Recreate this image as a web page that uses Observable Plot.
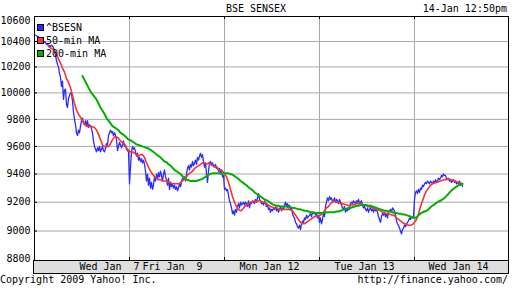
<!DOCTYPE html>
<html>
<head>
<meta charset="utf-8">
<script src="https://cdn.jsdelivr.net/npm/d3@7"></script>
<script src="https://cdn.jsdelivr.net/npm/@observablehq/plot@0.6"></script>
<style>
  html, body { margin: 0; padding: 0; background: #fff; }
  #wrap { position: relative; width: 512px; height: 288px; background: #fff; overflow: hidden;
          font-family: "DejaVu Sans Mono", monospace; font-size: 10px; color: #000; }
  #wrap svg { position: absolute; left: 0; top: 0; }
  svg text { white-space: pre; }
  .t { position: absolute; line-height: 12px; white-space: pre; }
  .band { position: absolute; left: 33px; top: 260px; width: 476px; height: 14px; box-sizing: border-box;
          background: #dedede; border: 1px solid #000; }
  .sw { position: absolute; left: 37px; width: 5px; height: 5px; border: 1px solid #000; }
</style>
</head>
<body>
<div id="wrap">
  <div class="band"></div>
</div>
<script>
// ---- data (one sample per ~3.5 trading minutes; each session = 95 samples) ----
const seriesNames = ["^BSESN", "50-min MA", "200-min MA"];
const seriesColors = ["#2b2bff", "#ff3030", "#00b000"];

const blueJan7 = [10450,10450,10445,10440,10440,10420,10410,10400,10395,10390,
 10400,10390,10380,10375,10370,10365,10360,10370,10365,10350,
 10330,10290,10250,10220,10200,10150,10120,10050,10090,9950,
 10020,10030,9910,9890,9960,9980,10000,9990,9940,9850,
 9800,9760,9700,9680,9720,9700,9750,9790,9810,9770,
 9760,9790,9750,9790,9740,9760,9750,9730,9700,9640,
 9600,9580,9560,9590,9570,9600,9560,9580,9600,9570,
 9560,9590,9620,9610,9680,9700,9720,9700,9710,9680,
 9700,9680,9650,9570,9600,9630,9610,9590,9610,9640,
 9600,9610,9580,9570,9560];
const blueJan9 = [9330,9450,9560,9600,9580,9590,9560,9530,9550,9500,
 9520,9490,9510,9480,9500,9470,9420,9350,9400,9320,
 9370,9300,9340,9290,9320,9380,9350,9400,9360,9410,
 9380,9420,9390,9350,9400,9430,9380,9360,9320,9370,
 9290,9340,9310,9330,9300,9320,9290,9310,9280,9300,
 9330,9310,9340,9370,9360,9380,9350,9400,9440,9460,
 9430,9470,9450,9490,9460,9480,9500,9470,9520,9500,
 9530,9550,9520,9540,9490,9450,9480,9400,9340,9420,
 9480,9490,9470,9480,9460,9450,9470,9440,9450,9420,
 9440,9400,9430,9380,9390];
const blueJan12 = [9290,9300,9280,9290,9250,9210,9190,9160,9120,9140,
 9110,9150,9130,9170,9190,9160,9200,9180,9190,9200,
 9180,9200,9190,9170,9210,9160,9200,9190,9210,9200,
 9190,9220,9200,9230,9260,9220,9210,9190,9200,9180,
 9210,9190,9170,9180,9150,9160,9130,9150,9140,9160,
 9150,9170,9140,9160,9130,9150,9170,9140,9160,9150,
 9180,9200,9170,9190,9160,9180,9150,9160,9120,9100,
 9090,9060,9050,9030,9020,9040,9010,9050,9070,9060,
 9090,9080,9110,9090,9100,9110,9120,9100,9130,9120,
 9130,9110,9120,9090,9110];
const blueJan13 = [9060,9090,9050,9080,9120,9100,9170,9200,9230,9210,
 9240,9220,9230,9200,9210,9230,9200,9220,9210,9190,
 9220,9200,9180,9160,9150,9170,9130,9150,9140,9160,
 9150,9190,9200,9190,9210,9200,9190,9210,9200,9220,
 9190,9200,9210,9180,9160,9170,9150,9140,9160,9130,
 9150,9160,9140,9150,9130,9160,9140,9150,9130,9100,
 9080,9060,9100,9120,9110,9130,9100,9120,9090,9130,
 9140,9150,9130,9160,9150,9140,9110,9070,9050,9040,
 9020,9000,8980,9010,9020,9040,9030,9050,9060,9070,
 9090,9080,9100,9090,9100];
const blueJan14 = [9220,9270,9280,9260,9290,9270,9300,9290,9320,9310,
 9330,9340,9330,9350,9340,9330,9350,9340,9330,9350,
 9340,9360,9340,9350,9370,9360,9370,9390,9380,9400,
 9390,9390,9370,9360,9370,9350,9360,9340,9350,9360,
 9340,9350,9330,9340,9330,9350,9320,9330,9310];

// 50-min MA: starts at sample 14, one value every 2 samples
const ma50Start = 14;
const ma50 = [10360,10350,10340,10330,10300,10260,10230,10190,10160,10110,
 10080,10040,9980,9920,9870,9840,9815,9790,9765,9750,
 9745,9750,9745,9740,9720,9690,9650,9610,9600,9595,
 9600,9620,9650,9670,9670,9660,9640,9630,9610,9590,
 9570,9560,9560,9550,9540,9530,9540,9540,9520,9480,
 9450,9420,9400,9380,9370,9360,9360,9350,9350,9350,
 9340,9340,9330,9330,9330,9330,9340,9350,9370,9380,
 9400,9410,9420,9440,9450,9460,9470,9480,9480,9470,
 9480,9470,9460,9450,9450,9430,9430,9420,9400,9380,
 9340,9290,9240,9200,9170,9150,9140,9150,9170,9180,
 9190,9200,9200,9210,9205,9210,9210,9200,9200,9190,
 9180,9170,9165,9160,9160,9150,9150,9150,9150,9150,
 9150,9145,9140,9120,9100,9080,9060,9050,9050,9060,
 9070,9080,9090,9100,9100,9100,9110,9120,9140,9160,
 9170,9190,9200,9210,9200,9200,9190,9190,9185,9180,
 9175,9180,9180,9185,9190,9190,9190,9185,9180,9175,
 9170,9165,9160,9155,9150,9145,9140,9130,9125,9120,
 9120,9115,9110,9105,9090,9080,9070,9060,9050,9045,
 9040,9040,9045,9060,9080,9120,9170,9210,9250,9280,
 9300,9320,9330,9335,9340,9345,9350,9355,9360,9360,
 9365,9360,9355,9350,9345,9340,9335,9330];

// 200-min MA: starts at sample 48, one value every 2 samples
const ma200Start = 48;
const ma200 = [10130,10100,10070,10040,10010,9990,9970,9950,9920,9890,
 9865,9840,9810,9790,9770,9750,9740,9730,9720,9700,
 9690,9680,9665,9650,9645,9635,9625,9615,9610,9605,
 9600,9595,9590,9585,9575,9565,9555,9540,9530,9520,
 9505,9490,9485,9470,9460,9445,9430,9420,9410,9400,
 9385,9370,9360,9355,9350,9350,9350,9350,9355,9360,
 9365,9375,9385,9395,9400,9405,9405,9405,9405,9405,
 9405,9405,9405,9405,9400,9395,9385,9375,9365,9350,
 9340,9330,9320,9305,9295,9285,9270,9260,9250,9240,
 9230,9220,9215,9205,9195,9185,9180,9175,9175,9170,
 9170,9170,9170,9165,9165,9160,9160,9155,9150,9150,
 9145,9140,9140,9135,9130,9130,9125,9125,9125,9125,
 9125,9125,9130,9130,9130,9130,9130,9135,9135,9140,
 9145,9150,9155,9160,9160,9165,9170,9175,9175,9180,
 9180,9180,9180,9175,9175,9170,9165,9160,9155,9150,
 9145,9140,9140,9135,9135,9130,9125,9125,9120,9120,
 9115,9115,9110,9105,9100,9095,9090,9095,9110,9120,
 9130,9135,9140,9150,9165,9175,9185,9195,9205,9210,
 9220,9230,9245,9260,9275,9290,9300,9310,9320,9325,
 9330];

const samplesPerDay = 95;
const dayBoundaries = [95, 190, 285, 380];
const dayLabels = ["Wed Jan  7", "Fri Jan  9", "Mon Jan 12", "Tue Jan 13", "Wed Jan 14"];
const dayLabelPos = [75, 138, 235, 330, 424];
const yTicks = [8800, 9000, 9200, 9400, 9600, 9800, 10000, 10200, 10400, 10600];
const yGrid = [9000, 9200, 9400, 9600, 9800, 10000, 10200, 10400];

// ---- build tables ----
const blue = [blueJan7, blueJan9, blueJan12, blueJan13, blueJan14]
  .flatMap((vals, d) => vals.map((v, k) => ({x: d * samplesPerDay + k, y: v})));
const red = ma50.map((v, i) => ({x: ma50Start + 2 * i, y: v}));
const green = ma200.map((v, i) => ({x: ma200Start + 2 * i, y: v}));
const xLabels = dayLabels.map((label, i) => ({x: dayLabelPos[i], label}));
const yMid = yTicks.slice(1, -1);

const W = 512, H = 288, mL = 34, mR = 4, mT = 16, mB = 28;
const innerW = W - mL - mR, innerH = H - mT - mB;

const chart = Plot.plot({
  width: W, height: H,
  marginLeft: mL, marginRight: mR, marginTop: mT, marginBottom: mB,
  style: {fontFamily: "DejaVu Sans Mono, monospace", fontSize: "10px", background: "transparent", color: "#000", overflow: "visible"},
  x: {domain: [0, 474], axis: null},
  y: {type: "log", domain: [8800, 10600], axis: null},
  marks: [
    Plot.ruleY(yGrid, {stroke: "#a8a8a8", strokeWidth: 1}),
    Plot.ruleX(dayBoundaries, {stroke: "#a8a8a8", strokeWidth: 1}),
    Plot.line(blue, {x: "x", y: "y", stroke: seriesColors[0], strokeWidth: 1.3}),
    Plot.line(red, {x: "x", y: "y", stroke: seriesColors[1], strokeWidth: 1.6}),
    Plot.line(green, {x: "x", y: "y", stroke: seriesColors[2], strokeWidth: 2}),
    Plot.tickX(dayBoundaries, {stroke: "#000", insetBottom: innerH - 3}),
    Plot.tickX(dayBoundaries, {stroke: "#000", insetTop: innerH - 3}),
    Plot.tickY(yTicks, {stroke: "#000", insetRight: innerW - 3}),
    Plot.frame({stroke: "#000"}),
    Plot.text(yMid, {x: 0, y: d => d, text: d => String(d), textAnchor: "end", dx: -4, fill: "#000", fontSize: 10}),
    Plot.text([10600], {x: 0, y: d => d, text: d => String(d), textAnchor: "end", dx: -4, dy: 4, fill: "#000", fontSize: 10}),
    Plot.text([8800], {x: 0, y: d => d, text: d => String(d), textAnchor: "end", dx: -4, dy: -2, fill: "#000", fontSize: 10}),
    Plot.text(xLabels, {x: "x", text: "label", frameAnchor: "bottom", lineAnchor: "top", dy: 2, fill: "#000", fontSize: 10})
  ]
});

const wrap = document.getElementById("wrap");
wrap.appendChild(chart);

function addText(txt, css) {
  const el = document.createElement("div");
  el.className = "t";
  el.textContent = txt;
  Object.assign(el.style, css);
  wrap.appendChild(el);
  return el;
}
addText("BSE SENSEX", {left: "0px", width: "512px", textAlign: "center", top: "3px"});
addText("14-Jan 12:50pm", {right: "5px", top: "3px"});
addText("Copyright 2009 Yahoo! Inc.", {left: "0px", top: "274px"});
addText("http://finance.yahoo.com/", {right: "4px", top: "274px"});

seriesNames.forEach((name, i) => {
  const top = 22 + 13 * i;
  const sw = document.createElement("div");
  sw.className = "sw";
  sw.style.top = (top + 2) + "px";
  sw.style.background = seriesColors[i];
  wrap.appendChild(sw);
  addText(name, {left: "46px", top: top + "px"});
});
</script>
</body>
</html>
